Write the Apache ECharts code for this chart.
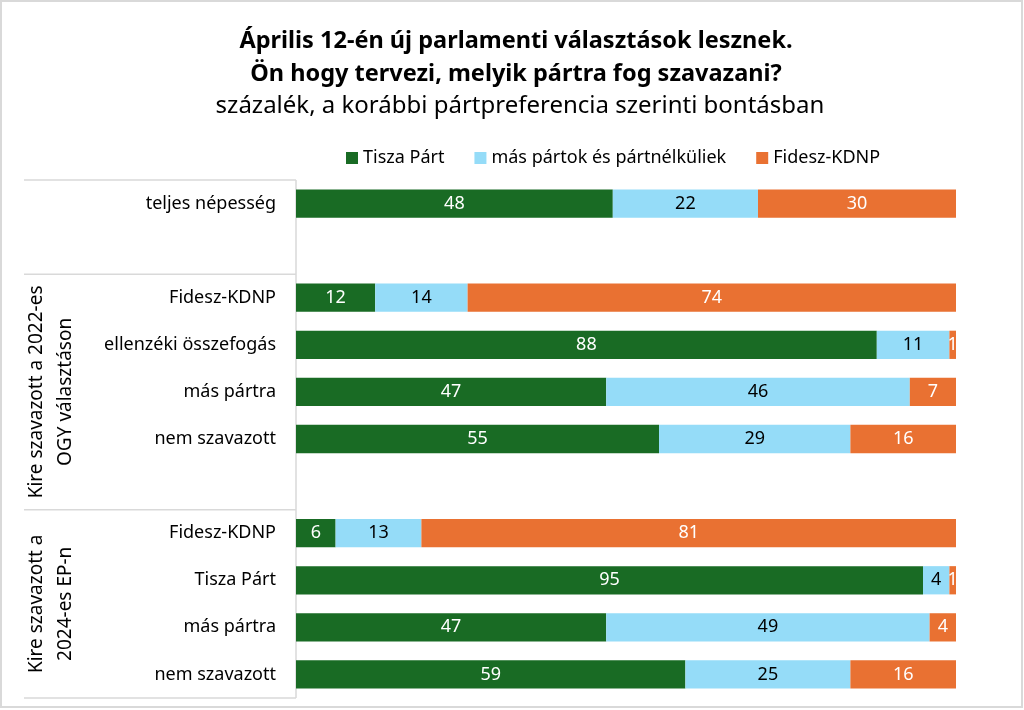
<!DOCTYPE html>
<html>
<head>
<meta charset="utf-8">
<script src="https://cdn.jsdelivr.net/npm/echarts@6/dist/echarts.min.js"></script>
<style>html,body{margin:0;padding:0;background:#fff}#c{width:1024px;height:710px}</style>
</head>
<body>
<div id="c"></div>
<script>
var categories = ['teljes népesség', '', 'Fidesz-KDNP', 'ellenzéki összefogás', 'más pártra', 'nem szavazott', ' ', 'Fidesz-KDNP', 'Tisza Párt', 'más pártra', 'nem szavazott'];
var tisza = [48, null, 12, 88, 47, 55, null, 6, 95, 47, 59];
var mas = [22, null, 14, 11, 46, 29, null, 13, 4, 49, 25];
var fidesz = [30, null, 74, 1, 7, 16, null, 81, 1, 4, 16];
var seriesNames = ['Tisza Párt', 'más pártok és pártnélküliek', 'Fidesz-KDNP'];
var groupLabels = ['Kire szavazott a 2022-es\nOGY választáson', 'Kire szavazott a\n2024-es EP-n'];
var titleLines = ['Április 12-én új parlamenti választások lesznek.', 'Ön hogy tervezi, melyik pártra fog szavazani?', 'százalék, a korábbi pártpreferencia szerinti bontásban'];

(function () {
var FONT = 'Noto Sans';
var colors = ['#196B24', '#95DCF8', '#E97132'];
var labelColors = ['#fff', '#000', '#fff'];
var chart = echarts.init(document.getElementById('c'));

function mk(i, data) {
  return {
    name: seriesNames[i], type: 'bar', stack: 's', data: data,
    barCategoryGap: '40%',
    itemStyle: {color: colors[i]},
    label: {show: true, position: 'inside', color: labelColors[i], fontSize: 18, fontFamily: FONT,
      formatter: function (p) { return p.value == null ? '' : p.value; }},
    emphasis: {disabled: true}
  };
}

chart.setOption({
  animation: false,
  title: [
    {text: titleLines[0] + '\n' + titleLines[1], left: 511, textAlign: 'center', top: 20,
     textStyle: {fontFamily: FONT, fontSize: 23.5, fontWeight: 'bold', color: '#000', lineHeight: 33}},
    {text: titleLines[2], left: 515, textAlign: 'center', top: 89,
     textStyle: {fontFamily: FONT, fontSize: 24, fontWeight: 'normal', color: '#000'}}
  ],
  legend: {
    data: seriesNames, top: 144, left: 341, itemWidth: 12, itemHeight: 12, itemGap: 30,
    icon: 'rect', textStyle: {fontFamily: FONT, fontSize: 18, color: '#000'}
  },
  grid: {left: 296, right: 68, top: 180, bottom: 12, containLabel: false},
  xAxis: {type: 'value', min: 0, max: 100, show: false},
  yAxis: {
    type: 'category', data: categories, inverse: true,
    axisLine: {show: false}, axisTick: {show: false},
    axisLabel: {fontFamily: FONT, fontSize: 18, color: '#000', margin: 20}
  },
  series: [mk(0, tisza), mk(1, mas), mk(2, fidesz)]
});

var g = [];
var y0 = 180, y1 = 698, rowH = (y1 - y0) / categories.length;
var ls = {stroke: '#d9d9d9', lineWidth: 1.5};
[0, 2, 7, 11].forEach(function (k) {
  var y = y0 + k * rowH;
  g.push({type: 'line', shape: {x1: 24, y1: y, x2: 296, y2: y}, style: ls, silent: true});
});
g.push({type: 'line', shape: {x1: 296, y1: y0, x2: 296, y2: y1}, style: ls, silent: true});
g.push({type: 'rect', shape: {x: 1, y: 1, width: 1021, height: 706}, style: {fill: 'none', stroke: '#d9d9d9', lineWidth: 2}, silent: true});
[[2, 7], [7, 11]].forEach(function (r, i) {
  var cy = y0 + (r[0] + r[1]) / 2 * rowH;
  g.push({type: 'text', x: 51, y: cy, rotation: Math.PI / 2,
    style: {text: groupLabels[i], fontFamily: FONT, fontSize: 19, fill: '#000', align: 'center', verticalAlign: 'middle', lineHeight: 29}, silent: true});
});
chart.setOption({graphic: g});
})();
</script>
</body>
</html>
